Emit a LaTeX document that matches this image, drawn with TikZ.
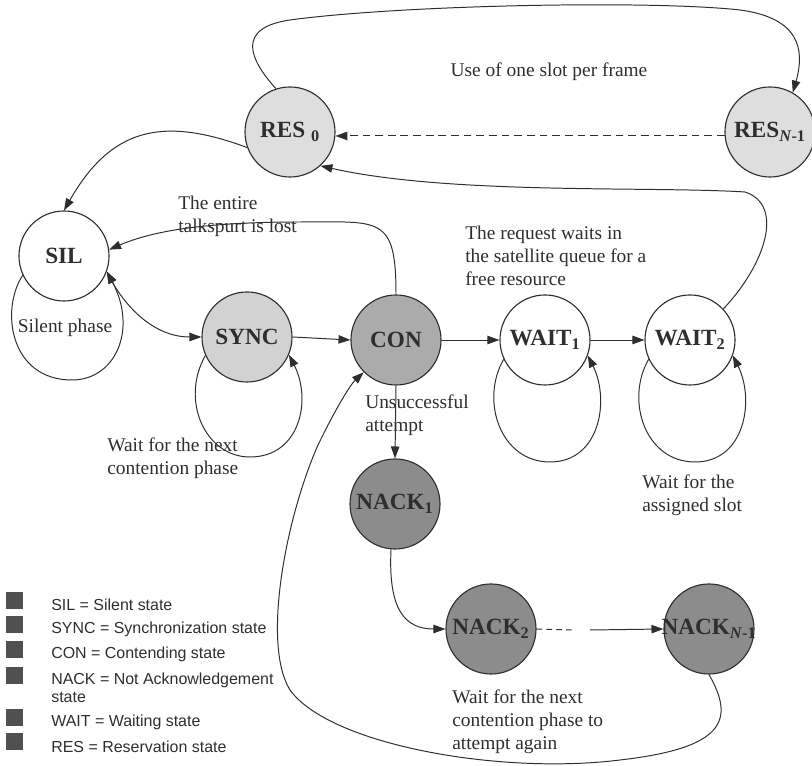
\documentclass[tikz,border=0pt]{standalone}
\usepackage{fontspec}
\setmainfont{Liberation Serif}
\newfontfamily\legendfont{Liberation Sans}
\usetikzlibrary{arrows.meta}

\definecolor{ink}{HTML}{2E2E2E}
\definecolor{resfill}{HTML}{DEDEDE}
\definecolor{syncfill}{HTML}{D2D2D2}
\definecolor{confill}{HTML}{ABABAB}
\definecolor{nackfill}{HTML}{8C8C8C}
\definecolor{legendgrey}{HTML}{505050}

\begin{document}
\begin{tikzpicture}[x=0.025cm, y=-0.025cm,
  >={Triangle[length=8.5pt,width=6pt]},
  state/.style={circle, draw=ink, line width=0.8pt, minimum size=2.25cm,
    inner sep=0pt, font=\bfseries\fontsize{16.5}{18}\selectfont, text=ink},
  line/.style={draw=ink, line width=0.7pt},
  note/.style={font=\fontsize{13.8}{16.3}\selectfont, text=ink, inner sep=0pt,
    align=left, anchor=north west},
  legsq/.style={fill=legendgrey, minimum size=0.425cm, inner sep=0pt},
  legtxt/.style={font=\legendfont\fontsize{11.35}{12.8}\selectfont, text=ink,
    inner sep=0pt, align=left, anchor=west},
]
\useasboundingbox (0,0) rectangle (812,766);

% states
\node[state, fill=resfill]  (res0)  at (290,132) {\makebox[0pt]{RES \textsubscript{0}}};
\node[state, fill=resfill]  (resN)  at (770,132) {\makebox[0pt]{RES\textsubscript{\textit{N}-1}}};
\node[state, fill=white]    (sil)   at (64,256)  {\makebox[0pt]{SIL}};
\node[state, fill=syncfill] (sync)  at (247,337) {\makebox[0pt]{SYNC}};
\node[state, fill=confill]  (con)   at (396,340) {\makebox[0pt]{CON}};
\node[state, fill=white]    (wait1) at (545,340) {\makebox[0pt]{WAIT\textsubscript{1}}};
\node[state, fill=white]    (wait2) at (690,340) {\makebox[0pt]{WAIT\textsubscript{2}}};
\node[state, fill=nackfill] (nack1) at (395,504) {\makebox[0pt]{NACK\textsubscript{1}}};
\node[state, fill=nackfill] (nack2) at (491,629) {\makebox[0pt]{NACK\textsubscript{2}}};
\node[state, fill=nackfill] (nackN) at (709,629) {\makebox[0pt]{NACK\textsubscript{\textit{N}-1}}};

\coordinate (dashend) at (572,630);
\coordinate (solidstart) at (590,630);

% reservation cycle
\draw[line,->] (res0.108) .. controls (250,60) and (235,28) .. (290,20)
  .. controls (400,5) and (650,0) .. (740,10)
  .. controls (800,18) and (805,50) .. (resN.60);
\draw[line,->,dash pattern=on 5.5pt off 3.5pt] (resN.185) -- (res0.-5);
\draw[line,->] (res0.200) .. controls (160,115) and (110,130) .. (sil.north);
\draw[line,->] (wait2.43) .. controls (765,265) and (785,205) .. (745,192)
  .. controls (650,186) and (450,195) .. (res0.-48);

% silence and synchronisation
\draw[line,->] (con.north) .. controls (396,215) and (380,222) .. (300,222)
  .. controls (200,222) and (150,232) .. (sil.8);
\draw[line,->] (sil.205) .. controls (0,310) and (10,380) .. (72,380)
  .. controls (115,380) and (138,330) .. (sil.-20);
\draw[line,<->] (sil.-20) .. controls (122,300) and (150,337) .. (sync.west);
\draw[line,->] (sync.204) .. controls (180,400) and (205,457) .. (250,457)
  .. controls (300,457) and (312,400) .. (sync.-23);
\draw[line,->] (sync.east) -- (con.west);

% waiting states
\draw[line,->] (con.east) -- (wait1.west);
\draw[line,->] (wait1.east) -- (wait2.west);
\draw[line,->] (wait1.205) .. controls (480,400) and (500,462) .. (550,462)
  .. controls (600,462) and (610,400) .. (wait1.-20);
\draw[line,->] (wait2.205) .. controls (625,400) and (645,462) .. (695,462)
  .. controls (745,462) and (755,400) .. (wait2.-20);

% contention failures
\draw[line,->] (con.south) -- (nack1.north);
\draw[line,->] (nack1.265) .. controls (388,610) and (405,629) .. (nack2.west);
\draw[line,dash pattern=on 4pt off 3pt] (nack2.east) -- (dashend);
\draw[line,->] (solidstart) -- (nackN.west);
\draw[line,->] (nackN.south) .. controls (735,720) and (725,748) .. (620,760)
  .. controls (500,775) and (330,745) .. (290,690)
  .. controls (262,645) and (285,520) .. (318,445)
  .. controls (335,410) and (350,385) .. (con.225);

% annotations
\node[note, anchor=center] (tslot) at (549,72) {Use of one slot per frame};
\node[note] (tlost) at (178,196) {The entire\\talkspurt is lost};
\node[note, anchor=center] (tsil) at (65,328) {Silent phase};
\node[note] (tsync) at (107,438) {Wait for the next\\contention phase};
\node[note] (tfail) at (365,395) {Unsuccessful\\attempt};
\node[note] (tqueue) at (465,226) {The request waits in\\the satellite queue for a\\free resource};
\node[note] (tslotw) at (642,475) {Wait for the\\assigned slot};
\node[note] (tretry) at (452,690) {Wait for the next\\contention phase to\\attempt again};

% legend
\node[legsq] (k1) at (14.5,601) {};
\node[legsq] (k2) at (14.5,625) {};
\node[legsq] (k3) at (14.5,650) {};
\node[legsq] (k4) at (14.5,676) {};
\node[legsq] (k5) at (14.5,717.5) {};
\node[legsq] (k6) at (14.5,741.5) {};
\node[legtxt] (l1) at (51,605) {SIL = Silent state};
\node[legtxt] (l2) at (51,629) {SYNC = Synchronization state};
\node[legtxt] (l3) at (51,654) {CON = Contending state};
\node[legtxt, anchor=north west] (l4) at (51,673) {NACK = Not Acknowledgement\\state};
\node[legtxt] (l5) at (51,722) {WAIT = Waiting state};
\node[legtxt] (l6) at (51,747) {RES = Reservation state};
\end{tikzpicture}
\end{document}
